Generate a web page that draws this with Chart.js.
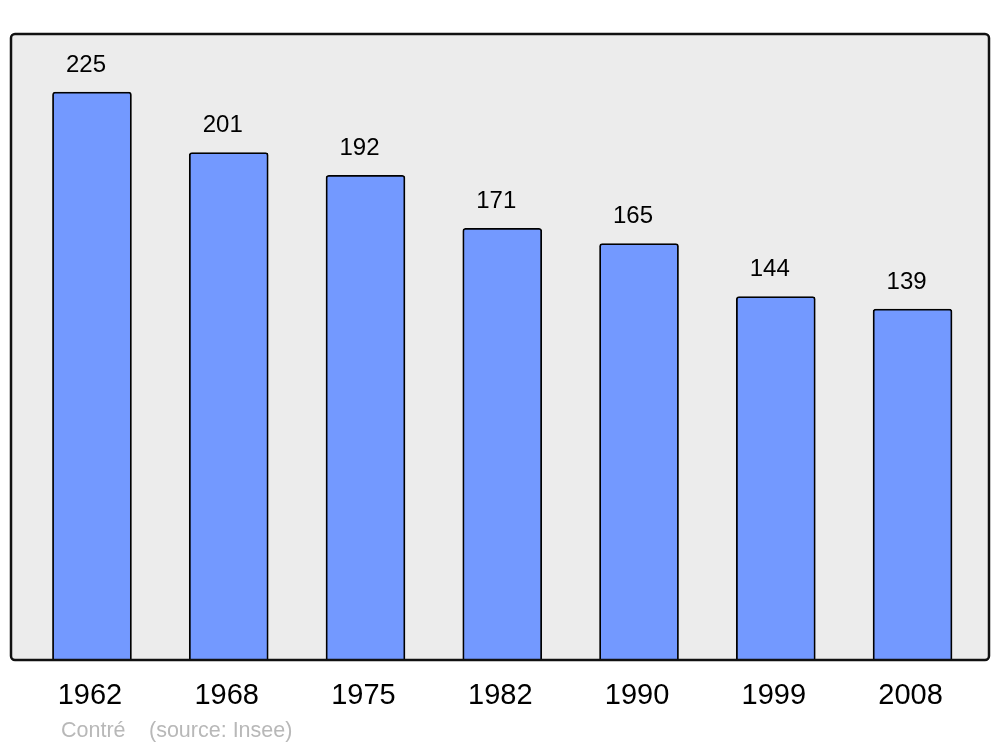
<!DOCTYPE html>
<html>
<head>
<meta charset="utf-8">
<script src="https://cdn.jsdelivr.net/npm/chart.js@4"></script>
<style>
  html, body { margin: 0; padding: 0; background: #fff; }
  #wrap { width: 1000px; height: 747px; }
</style>
</head>
<body>
<div id="wrap"><canvas id="pop"></canvas></div>
<script>
// population by census year
const years = ["1962", "1968", "1975", "1982", "1990", "1999", "2008"];
const population = [225, 201, 192, 171, 165, 144, 139];
const commune = "Contré";
const source = "(source: Insee)";

const points = population.map((v, i) => ({ x: i, y: v }));

// grey rounded frame behind the bars, border on top of them
const framePlugin = {
  id: "frame",
  beforeDatasetsDraw(chart) {
    const a = chart.chartArea;
    const ctx = chart.ctx;
    ctx.save();
    ctx.beginPath();
    ctx.roundRect(a.left, a.top, a.right - a.left, a.bottom - a.top, 4);
    ctx.fillStyle = "#ececec";
    ctx.fill();
    ctx.restore();
  },
  afterDatasetsDraw(chart) {
    const a = chart.chartArea;
    const ctx = chart.ctx;
    const xs = chart.scales.x;
    ctx.save();
    ctx.beginPath();
    ctx.roundRect(a.left, a.top, a.right - a.left, a.bottom - a.top, 4);
    ctx.lineWidth = 2.5;
    ctx.strokeStyle = "#111";
    ctx.stroke();

    // value labels above bars
    const meta = chart.getDatasetMeta(0);
    ctx.fillStyle = "#000";
    ctx.textAlign = "center";
    ctx.textBaseline = "middle";
    ctx.font = "24px 'Liberation Sans', Arial, sans-serif";
    meta.data.forEach((bar, i) => {
      ctx.fillText(String(population[i]), bar.x - 6, bar.y - 27);
    });

    // year labels under the frame
    ctx.font = "29px 'Liberation Sans', Arial, sans-serif";
    years.forEach((y, i) => {
      ctx.fillText(y, xs.getPixelForValue(i) - 2, a.bottom + 36);
    });

    // footer
    ctx.textAlign = "left";
    ctx.fillStyle = "#b8b8b8";
    ctx.font = "21.5px 'Liberation Sans', Arial, sans-serif";
    ctx.fillText(commune, 61, 731);
    ctx.fillText(source, 149, 731);
    ctx.restore();
  }
};

new Chart(document.querySelector("#pop"), {
  type: "bar",
  data: {
    datasets: [{
      data: points,
      backgroundColor: "#7399ff",
      borderColor: "#000",
      borderWidth: 1.8,
      borderSkipped: "bottom",
      borderRadius: { topLeft: 3, topRight: 3 },
      barThickness: 79
    }]
  },
  options: {
    responsive: true,
    maintainAspectRatio: false,
    animation: false,
    layout: { padding: { left: 11, right: 11, top: 34, bottom: 87 } },
    plugins: { legend: { display: false }, tooltip: { enabled: false } },
    scales: {
      x: { type: "linear", offset: false, min: -0.592, max: 6.559, display: false },
      y: { min: 0, max: 248, display: false }
    }
  },
  plugins: [framePlugin]
});
</script>
</body>
</html>
